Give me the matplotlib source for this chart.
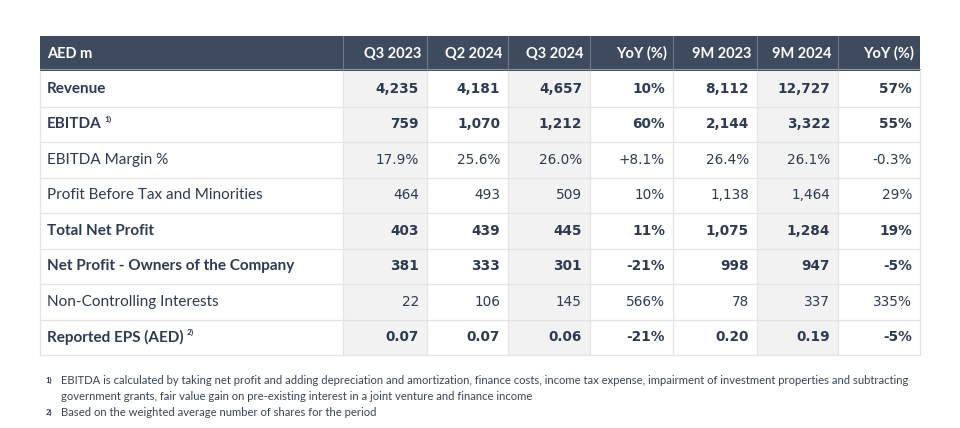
import matplotlib.pyplot as plt
from matplotlib.patches import Rectangle

plt.rcParams['font.family'] = ['Lato', 'DejaVu Sans']

# Table content
headers = ['AED m', 'Q3 2023', 'Q2 2024', 'Q3 2024', 'YoY (%)', '9M 2023', '9M 2024', 'YoY (%)']
row_labels = ['Revenue', 'EBITDA', 'EBITDA Margin %', 'Profit Before Tax and Minorities',
              'Total Net Profit', 'Net Profit - Owners of the Company',
              'Non-Controlling Interests', 'Reported EPS (AED)']
row_notes = ['', '1)', '', '', '', '', '', '2)']
row_bold = [True, True, False, False, True, True, False, True]
q3_2023 = ['4,235', '759', '17.9%', '464', '403', '381', '22', '0.07']
q2_2024 = ['4,181', '1,070', '25.6%', '493', '439', '333', '106', '0.07']
q3_2024 = ['4,657', '1,212', '26.0%', '509', '445', '301', '145', '0.06']
yoy_q = ['10%', '60%', '+8.1%', '10%', '11%', '-21%', '566%', '-21%']
m9_2023 = ['8,112', '2,144', '26.4%', '1,138', '1,075', '998', '78', '0.20']
m9_2024 = ['12,727', '3,322', '26.1%', '1,464', '1,284', '947', '337', '0.19']
yoy_9m = ['57%', '55%', '-0.3%', '29%', '19%', '-5%', '335%', '-5%']
footnotes = [
    ('1)', 'EBITDA is calculated by taking net profit and adding depreciation and amortization, finance costs, income tax expense, impairment of investment properties and subtracting'),
    ('', 'government grants, fair value gain on pre-existing interest in a joint venture and finance income'),
    ('2)', 'Based on the weighted average number of shares for the period'),
]

columns = [q3_2023, q2_2024, q3_2024, yoy_q, m9_2023, m9_2024, yoy_9m]
shaded = [True, False, True, False, False, True, False]

# layout (pixels)
col_edges = [40, 343, 427, 508, 590, 673, 757, 838, 920]
head_top, head_bot = 36, 71
row_h = 35.5
text_col = '#2d3a50'
head_col = '#3e4b5e'
line_col = '#e4e4e4'

fig = plt.figure(figsize=(9.6, 4.28), dpi=100)
ax = fig.add_axes([0, 0, 1, 1])
ax.set_xlim(0, 960)
ax.set_ylim(428, 0)
ax.axis('off')

# header
ax.add_patch(Rectangle((col_edges[0], head_top), col_edges[-1] - col_edges[0], head_bot - head_top,
                       facecolor=head_col, edgecolor='none'))
ax.plot([col_edges[0], col_edges[-1]], [head_bot - 2, head_bot - 2], color='#8c96a3', lw=0.8)
for x in col_edges[1:-1]:
    ax.plot([x, x], [head_top, head_bot], color='#6f7a89', lw=0.8)
ax.text(col_edges[0] + 7, (head_top + head_bot) / 2, headers[0], color='white',
        fontsize=10.5, fontweight='bold', va='center', ha='left')
for j, h in enumerate(headers[1:]):
    ax.text(col_edges[j + 2] - 6, (head_top + head_bot) / 2, h, color='white',
            fontsize=10.5, fontweight='bold', va='center', ha='right')

n = len(row_labels)
body_bot = head_bot + n * row_h

# shaded columns
for j, s in enumerate(shaded):
    if s:
        ax.add_patch(Rectangle((col_edges[j + 1], head_bot), col_edges[j + 2] - col_edges[j + 1],
                               body_bot - head_bot, facecolor='#f2f2f2', edgecolor='none'))

# grid lines
for i in range(1, n + 1):
    y = head_bot + i * row_h
    ax.plot([col_edges[0], col_edges[-1]], [y, y], color=line_col, lw=0.9)
for x in col_edges:
    ax.plot([x, x], [head_bot, body_bot], color=line_col, lw=0.9)

# rows
fig.canvas.draw()
for i in range(n):
    yc = head_bot + (i + 0.5) * row_h
    w = 'bold' if row_bold[i] else 'normal'
    t = ax.text(col_edges[0] + 7, yc, row_labels[i], color=text_col, fontsize=11,
                fontweight=w, va='center', ha='left')
    if row_notes[i]:
        bb = t.get_window_extent(renderer=fig.canvas.get_renderer())
        ax.text(bb.x1 + 3, yc - 5, row_notes[i], color=text_col, fontsize=6,
                fontweight='bold', va='center', ha='left')
    for j, col in enumerate(columns):
        ax.text(col_edges[j + 2] - 8, yc, col[i], color=text_col, fontsize=9.8,
                fontweight=w, va='center', ha='right', family='DejaVu Sans')

# footnotes
fy = [380, 396, 412]
for (mark, txt), y in zip(footnotes, fy):
    if mark:
        ax.text(46, y, mark, color=text_col, fontsize=5.5, fontweight='bold', va='center', ha='left')
    ax.text(61, y, txt, color='#3a4456', fontsize=8.1, va='center', ha='left')

fig.savefig('out.png', dpi=100)
